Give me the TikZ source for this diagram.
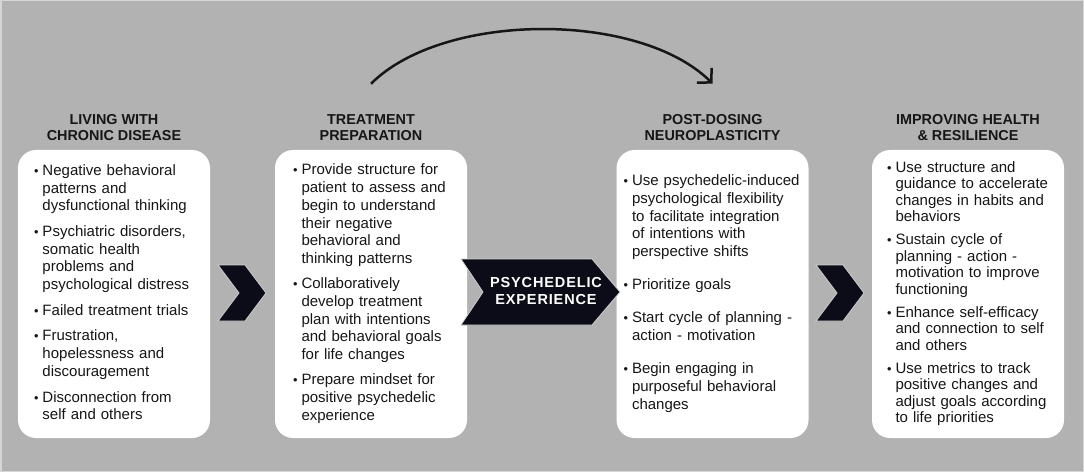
\documentclass[tikz,border=0pt]{standalone}
\usepackage{fontspec}
\usepackage{graphicx}
\setmainfont{Liberation Sans}
\newfontfamily\tagfont[LetterSpace=6]{Liberation Sans}
\usetikzlibrary{arrows.meta, positioning}

\definecolor{bggray}{HTML}{B2B2B2}
\definecolor{framegray}{HTML}{D6D6D6}
\definecolor{darknavy}{HTML}{0C0C18}
\definecolor{edgegray}{HTML}{D2D2D2}
\definecolor{inkblack}{HTML}{161616}

\newcommand{\bul}{\makebox[8.5pt][l]{\scalebox{0.85}{\textbullet}}}

\begin{document}
\begin{tikzpicture}[
    x=1pt, y=1pt,
    card/.style={rectangle, rounded corners=18pt, fill=white, minimum width=192pt,
        minimum height=288pt, inner ysep=0pt, text=inkblack,
        font=\fontsize{15}{17.7}\selectfont},
    stagehead/.style={align=center, inner sep=0pt, text=inkblack,
        font=\fontsize{14.4}{16}\selectfont\bfseries},
    chevron/.style={fill=darknavy, draw=edgegray, line width=0.8pt},
    midtag/.style={align=center, inner sep=0pt, text=white,
        font=\fontsize{14.5}{17.5}\selectfont\tagfont\bfseries},
    leap/.style={-{Straight Barb[length=10pt, width=21pt]}, line width=2.5pt, draw=inkblack}
]
    \useasboundingbox (0,0) rectangle (1084,472);
    \fill[bggray] (0,0) rectangle (1084,472);
    \draw[framegray, line width=1.5pt] (0.75,0.75) rectangle (1083.25,471.25);

    % Cards
    \node[card, inner xsep=16pt, text width=160pt] (living) at (114,178) {%
        \noindent\begin{tabular}{@{}l@{}l@{}}
        \bul & Negative behavioral\\
             & patterns and\\
             & dysfunctional thinking\\[8pt]
        \bul & Psychiatric disorders,\\
             & somatic health\\
             & problems and\\
             & psychological distress\\[8pt]
        \bul & Failed treatment trials\\[8pt]
        \bul & Frustration,\\
             & hopelessness and\\
             & discouragement\\[8pt]
        \bul & Disconnection from\\
             & self and others
        \end{tabular}};
    \node[card, inner xsep=18pt, text width=156pt] (prep) at (371,178) {%
        \noindent\begin{tabular}{@{}l@{}l@{}}
        \bul & Provide structure for\\
             & patient to assess and\\
             & begin to understand\\
             & their negative\\
             & behavioral and\\
             & thinking patterns\\[7.5pt]
        \bul & Collaboratively\\
             & develop treatment\\
             & plan with intentions\\
             & and behavioral goals\\
             & for life changes\\[7.5pt]
        \bul & Prepare mindset for\\
             & positive psychedelic\\
             & experience
        \end{tabular}};
    \node[card, inner xsep=7pt, text width=178pt] (post) at (712.5,178) {%
        \noindent\begin{tabular}{@{}l@{}l@{}}
        \bul & Use psychedelic-induced\\
             & psychological flexibility\\
             & to facilitate integration\\
             & of intentions with\\
             & perspective shifts\\[15.5pt]
        \bul & Prioritize goals\\[15.5pt]
        \bul & Start cycle of planning -\\
             & action - motivation\\[15.5pt]
        \bul & Begin engaging in\\
             & purposeful behavioral\\
             & changes
        \end{tabular}};
    \node[card, inner xsep=15pt, text width=162pt,
        font=\fontsize{15}{16.5}\selectfont] (improve) at (968,178) {%
        \noindent\begin{tabular}{@{}l@{}l@{}}
        \bul & Use structure and\\
             & guidance to accelerate\\
             & changes in habits and\\
             & behaviors\\[6.5pt]
        \bul & Sustain cycle of\\
             & planning - action -\\
             & motivation to improve\\
             & functioning\\[6.5pt]
        \bul & Enhance self-efficacy\\
             & and connection to self\\
             & and others\\[6.5pt]
        \bul & Use metrics to track\\
             & positive changes and\\
             & adjust goals according\\
             & to life priorities
        \end{tabular}};

    % Headings
    \node[stagehead, above=8.6pt of living] (livinghead) {LIVING WITH\\CHRONIC DISEASE};
    \node[stagehead, above=8.6pt of prep] (prephead) {TREATMENT\\PREPARATION};
    \node[stagehead, above=8.6pt of post] (posthead) {POST-DOSING\\NEUROPLASTICITY};
    \node[stagehead, above=8.6pt of improve] (improvehead) {IMPROVING HEALTH\\\& RESILIENCE};

    % Chevrons
    \foreach \cx in {218, 816} {
        \draw[chevron] (\cx,207) -- ++(27,0) -- ++(21,-28) -- ++(-21,-28)
            -- ++(-27,0) -- ++(21,28) -- cycle;
    }
    \draw[chevron] (461,213) -- (592,213) -- (620,180) -- (592,147)
        -- (461,147) -- (483,180) -- cycle;
    \node[midtag] (psyche) at (546,181) {PSYCHEDELIC\\EXPERIENCE};

    % Leap over the session
    \coordinate (arcfrom) at ([yshift=31pt]prephead.north);
    \coordinate (arcto) at ([yshift=31pt]posthead.north);
    \draw[leap] (arcfrom) to[out=45, in=135, looseness=0.77] (arcto);
\end{tikzpicture}
\end{document}
